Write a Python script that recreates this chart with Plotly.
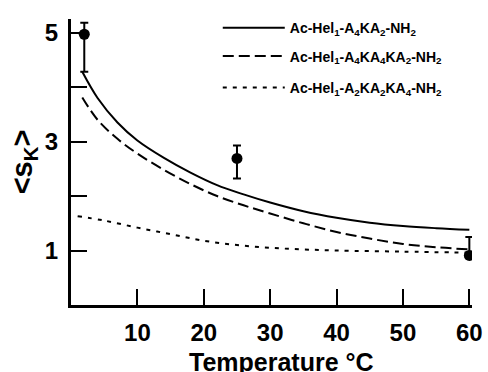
import plotly.graph_objects as go

# Model curves (Temperature °C vs <s_K>)
solid_x = [1.7, 4, 7, 10, 14, 18, 22, 26, 30, 35, 40, 45, 50, 55, 60]
solid_y = [4.28, 3.8, 3.35, 3.02, 2.7, 2.43, 2.2, 2.03, 1.88, 1.72, 1.6, 1.51, 1.45, 1.41, 1.38]

dashed_x = [1.7, 4, 7, 10, 14, 18, 22, 26, 30, 35, 40, 45, 50, 55, 60]
dashed_y = [3.81, 3.4, 3.05, 2.78, 2.48, 2.22, 2.0, 1.83, 1.68, 1.5, 1.34, 1.22, 1.12, 1.06, 1.02]

dotted_x = [1, 5, 10, 15, 20, 25, 30, 35, 40, 50, 60]
dotted_y = [1.63, 1.55, 1.42, 1.3, 1.18, 1.1, 1.05, 1.02, 1.0, 0.98, 0.96]

# Experimental points
exp_x = [2, 25, 60]
exp_y = [4.97, 2.69, 0.91]
exp_err_plus = [0.21, 0.24, 0.34]
exp_err_minus = [0.69, 0.37, 0.05]

names = [
    "Ac-Hel<sub>1</sub>-A<sub>4</sub>KA<sub>2</sub>-NH<sub>2</sub>",
    "Ac-Hel<sub>1</sub>-A<sub>4</sub>KA<sub>4</sub>KA<sub>2</sub>-NH<sub>2</sub>",
    "Ac-Hel<sub>1</sub>-A<sub>2</sub>KA<sub>2</sub>KA<sub>4</sub>-NH<sub>2</sub>",
]

x_ticks = [10, 20, 30, 40, 50, 60]
y_ticks = [1, 2, 3, 4, 5]
y_ticktext = ["1", "", "3", "", "5"]
x_title = "Temperature °C"
y_title = "<s<sub>K</sub>>"

FONT = "Liberation Sans, Arial, Helvetica, sans-serif"

fig = go.Figure()
fig.add_trace(go.Scatter(x=solid_x, y=solid_y, mode="lines", name=names[0],
                         line=dict(color="black", width=2, shape="spline"),
                         legend="legend"))
fig.add_trace(go.Scatter(x=dashed_x, y=dashed_y, mode="lines", name=names[1],
                         line=dict(color="black", width=2, dash="11px,5px", shape="spline"),
                         legend="legend2"))
fig.add_trace(go.Scatter(x=dotted_x, y=dotted_y, mode="lines", name=names[2],
                         line=dict(color="black", width=2, dash="4px,6px", shape="spline"),
                         legend="legend3"))
fig.add_trace(go.Scatter(x=exp_x, y=exp_y, mode="markers", showlegend=False,
                         marker=dict(color="black", size=11),
                         error_y=dict(type="data", array=exp_err_plus,
                                      arrayminus=exp_err_minus, color="black",
                                      thickness=2, width=4)))

leg_common = dict(x=0.366, xanchor="left", yanchor="top",
                  bgcolor="rgba(0,0,0,0)", borderwidth=0,
                  font=dict(size=14, weight="bold"), itemwidth=62)

fig.update_layout(
    width=488, height=372,
    margin=dict(l=71, r=16, t=13, b=67),
    paper_bgcolor="white", plot_bgcolor="white",
    font=dict(family=FONT, color="black"),
    showlegend=True,
    legend=dict(y=1.024, **leg_common),
    legend2=dict(y=0.925, **leg_common),
    legend3=dict(y=0.815, **leg_common),
    xaxis=dict(range=[0, 60.4], tickvals=x_ticks, ticks="inside", ticklen=16,
               tickwidth=2, tickcolor="black", showline=True, linewidth=3,
               linecolor="black", showgrid=False, zeroline=False, automargin=False,
               tickfont=dict(size=24, weight="bold"), ticklabelstandoff=4),
    yaxis=dict(range=[0, 5.25], tickvals=y_ticks, ticktext=y_ticktext,
               ticks="inside", ticklen=16, tickwidth=2, tickcolor="black",
               showline=True, linewidth=3, linecolor="black", showgrid=False,
               zeroline=False, automargin=False, tickfont=dict(size=24, weight="bold"),
               ticklabelstandoff=5,
               title=dict(text=y_title, font=dict(size=29, weight="bold"),
                          standoff=4)),
    annotations=[dict(text=x_title, xref="paper", yref="paper", x=0.525, y=-0.142,
                      xanchor="center", yanchor="top", showarrow=False,
                      font=dict(size=25, weight="bold"))],
)

fig.write_html("out.html", config={"displayModeBar": False},
               post_script="document.body.style.margin='0';document.body.style.overflow='hidden';")
